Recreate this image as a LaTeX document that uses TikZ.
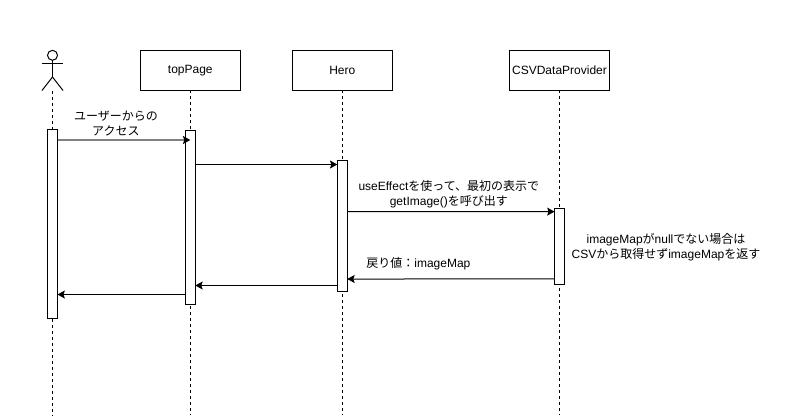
\documentclass[tikz,border=0pt]{standalone}
\usepackage{fontspec}
\setmainfont{Liberation Sans}
\newfontfamily\cjk{Noto Sans CJK JP}
\newcommand{\jp}[1]{{\cjk #1}}
\usetikzlibrary{positioning}
\usetikzlibrary{arrows.meta}

\begin{document}
\begin{tikzpicture}[
	x=0.75pt, y=-0.75pt, line width=0.75pt,
	every node/.style = {font=\fontsize{9pt}{11.25pt}\selectfont},
	headbox/.style = {draw, fill=white, minimum width=75pt, minimum height=30pt, inner sep=0pt, outer sep=0pt},
	barbox/.style = {draw, fill=white, minimum width=7.5pt, inner sep=0pt, outer sep=0pt},
	lifeline/.style = {dash pattern=on 2.25pt off 2.25pt},
	msg/.style = {-{Stealth[length=5.5pt,width=6pt,inset=1pt,color=black]}},
	msgtext/.style = {align=center, inner sep=0pt}
	]
	\useasboundingbox (0,0) rectangle (809,415);
	\fill [white] (0,0) rectangle (809,415);

	% heads of the lifelines
	\node (page) [headbox] at (190.3,70.4) {topPage};
	\node (hero) [headbox] at (342.3,70.4) {Hero};
	\node (csv) [headbox] at (559.5,70.4) {CSVDataProvider};

	% actor
	\node (head) [circle, draw, minimum size=7.5pt, inner sep=0pt, outer sep=0pt] at (52.5,55.3) {};
	\coordinate (hip) at (52.5,77);
	\coordinate (foot) at (52.5,90.5);
	\coordinate (handl) at (42,63.8);
	\coordinate (handr) at (63,63.8);
	\coordinate (footl) at (42,90.5);
	\coordinate (footr) at (63,90.5);
	\draw (head) -- (hip);
	\draw (handl) -- (handr);
	\draw (footl) -- (hip) -- (footr);

	% lifelines
	\coordinate (userend) at (52.5,415);
	\coordinate (pageend) at (190.3,415);
	\coordinate (heroend) at (342.3,415);
	\coordinate (csvend) at (559.5,415);
	\draw [lifeline] (foot) -- (userend);
	\draw [lifeline] (page) -- (pageend);
	\draw [lifeline] (hero) -- (heroend);
	\draw [lifeline] (csv) -- (csvend);

	% activation bars
	\node (userbar) [barbox, minimum height=141.75pt] at (52.5,224) {};
	\node (pagebar) [barbox, minimum height=130.5pt] at (190.3,217.5) {};
	\node (herobar) [barbox, minimum height=98.25pt] at (342.3,226) {};
	\node (csvbar) [barbox, minimum height=57.25pt] at (559.5,246.8) {};

	% messages
	\path [msg]
	([shift={(0,10.5)}]userbar.north east) edge [draw=black!50, line width=1.3pt] node[msgtext, above=2.5pt, pos=0.44] {\jp{ユーザーからの}\\\jp{アクセス}} ([shift={(0,9.5)}]pagebar.north)
	([shift={(0,34)}]pagebar.north east) edge ([shift={(0,4)}]herobar.north west)
	([shift={(0,51)}]herobar.north east) edge node[msgtext, above=2.5pt, pos=0.49] {useEffect\jp{を使って、最初の表示で}\\getImage()\jp{を呼び出す}} ([shift={(0,3)}]csvbar.north west)
	([shift={(0,-6)}]csvbar.south west) edge node[msgtext, above=6.5pt, pos=0.657] {\jp{戻り値：}imageMap} ([shift={(0,-12.5)}]herobar.south east)
	([shift={(0,-6)}]herobar.south west) edge ([shift={(0,-19)}]pagebar.south east)
	([shift={(0,-10)}]pagebar.south west) edge ([shift={(0,-24)}]userbar.south east);

	% note next to CSVDataProvider
	\node (note) [msgtext] at (666,247) {imageMap\jp{が}null\jp{でない場合は}\\CSV\jp{から取得せず}imageMap\jp{を返す}};
\end{tikzpicture}
\end{document}
